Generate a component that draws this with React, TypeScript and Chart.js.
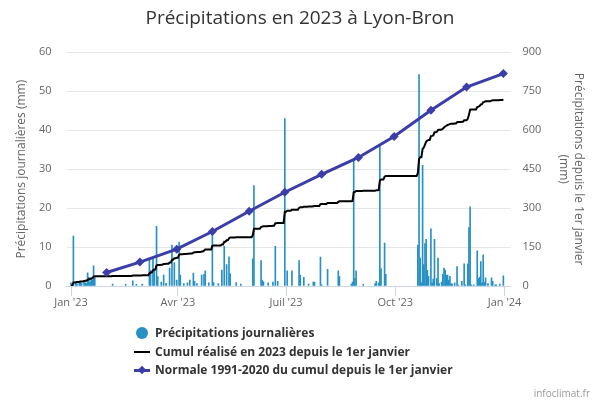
import React, { useEffect, useRef } from "react";
import { Chart, registerables } from "chart.js";

Chart.register(...registerables);

// ---- data (day index: 0 = 1 Jan 2023) ----
const rainDay = [
  0, 2, 4, 5, 7, 8, 9, 11, 12, 13, 14, 15, 16, 17, 18, 19, 20,
  35, 46, 52, 55,
  60, 66, 67, 69, 70, 72, 73, 76, 78, 80, 83, 85, 87, 89,
  91, 92, 95, 98, 100, 103, 104, 106, 110, 112, 113, 116, 119,
  120, 124, 127, 129, 131, 133, 134, 139, 143,
  153, 154, 160, 161, 162, 166, 170, 172, 174, 180,
  182, 186, 192, 193, 196, 200, 204, 205, 210, 211,
  216, 225, 226, 236, 237, 238, 239, 240, 246,
  256, 257, 259, 260, 261, 264, 265,
  292, 293, 294, 295, 296, 297, 298, 299, 300, 301, 303,
  304, 305, 306, 308, 309, 310, 312, 313, 314, 315, 316, 317, 318, 319, 320, 321, 323, 325, 326, 329, 331, 332,
  334, 335, 336, 337, 339, 342, 343, 344, 345, 346, 347, 348, 349, 351, 354, 355, 357, 358, 361, 364,
];
const rainMm = [
  0.8, 12.8, 0.8, 0.6, 1.2, 1.0, 0.6, 1.3, 0.8, 0.6, 3.4, 2.2, 1.0, 2.0, 1.5, 5.2, 2.2,
  0.5, 0.4, 1.3, 0.4,
  0.5, 7.0, 4.0, 7.5, 4.0, 15.3, 2.4, 1.0, 2.8, 0.7, 4.6, 10.5, 6.0, 1.5,
  11.3, 2.8, 0.6, 0.8, 1.5, 3.3, 1.2, 0.6, 2.8, 3.0, 3.9, 0.8, 13.6,
  0.9, 0.6, 4.1, 10.2, 5.5, 7.5, 3.2, 0.9, 0.5,
  7.0, 25.8, 6.5, 1.5, 1.1, 0.8, 1.0, 10.2, 1.2, 43.0,
  3.9, 3.9, 6.5, 2.8, 2.2, 0.5, 1.0, 1.0, 7.4, 0.3,
  4.3, 3.9, 2.4, 0.5, 1.0, 32.5, 2.0, 3.9, 0.4,
  0.6, 1.2, 0.8, 36.3, 4.5, 11.0, 3.0,
  10.5, 54.3, 7.2, 0.8, 31.0, 5.5, 10.9, 12.0, 4.0, 2.5, 14.7,
  0.8, 1.8, 12.0, 1.9, 7.2, 0.6, 1.0, 3.0, 4.6, 4.1, 2.8, 2.8, 1.5, 2.5, 0.6, 0.5, 0.8, 5.0, 0.3, 1.2, 5.7, 0.3,
  5.7, 15.0, 20.3, 0.3, 0.3, 9.0, 1.9, 2.2, 6.3, 0.8, 8.0, 0.9, 2.1, 0.6, 2.1, 1.2, 0.3, 0.3, 0.5, 2.6,
];

const normalDay = [30, 58, 89, 119, 150, 180, 211, 242, 272, 303, 333, 364];
const normalMm = [52, 92, 142, 210, 288, 361, 430, 495, 576, 677, 766, 818];

const xTickDays = [0, 90, 181, 273, 365];
const xTickLabels = ["Jan '23", "Avr '23", "Juil '23", "Oct '23", "Jan '24"];

const FONT = "'Open Sans', 'Noto Sans', Arial, sans-serif";
const BAR = "#2790c4";
const BLUE = "#3b3ea8";
const TICK = "#666666";

export default function App() {
  const ref = useRef<HTMLCanvasElement | null>(null);

  useEffect(() => {
    document.body.style.margin = "0";
    const canvas = ref.current;
    if (!canvas) return;

    const bars = rainDay.map((d, i) => ({ x: d, y: rainMm[i] }));
    const cum: { x: number; y: number }[] = [];
    let s = 0;
    for (let d = 0; d < 365; d++) {
      rainDay.forEach((rd, i) => {
        if (rd === d) s += rainMm[i];
      });
      cum.push({ x: d, y: Math.round(s * 10) / 10 });
    }
    const normal = normalDay.map((d, i) => ({ x: d, y: normalMm[i] }));

    const chart = new Chart(canvas, {
      type: "bar",
      data: {
        datasets: [
          {
            type: "line",
            label: "Normale 1991-2020 du cumul depuis le 1er janvier",
            data: normal,
            yAxisID: "y1",
            borderColor: BLUE,
            backgroundColor: BLUE,
            borderWidth: 3,
            pointStyle: "rectRot",
            pointRadius: 4.5,
            pointBorderWidth: 0,
            tension: 0,
            order: 0,
          } as any,
          {
            type: "line",
            label: "Cumul réalisé en 2023 depuis le 1er janvier",
            data: cum,
            yAxisID: "y1",
            borderColor: "#000000",
            borderWidth: 2,
            pointRadius: 0,
            tension: 0,
            order: 1,
          } as any,
          {
            type: "bar",
            label: "Précipitations journalières",
            data: bars,
            yAxisID: "y",
            backgroundColor: BAR,
            barThickness: 1,
            grouped: false,
            order: 2,
          } as any,
        ],
      },
      options: {
        animation: false,
        responsive: false,
        events: [],
        layout: { padding: { left: 0, right: 0, top: 0, bottom: 84 } },
        plugins: {
          legend: { display: false },
          tooltip: { enabled: false },
          title: {
            display: true,
            text: "Précipitations en 2023 à Lyon-Bron",
            color: "#333333",
            font: { family: FONT, size: 19, weight: "normal", lineHeight: 1.2 },
            padding: { top: 7, bottom: 22.5 },
          },
        },
        scales: {
          x: {
            type: "linear",
            min: -3.8,
            max: 370,
            offset: false,
            afterBuildTicks: (sc: any) => {
              sc.ticks = xTickDays.map((v) => ({ value: v }));
            },
            afterFit: (sc: any) => {
              sc.height = 30;
            },
            ticks: {
              autoSkip: false,
              maxRotation: 0,
              color: TICK,
              padding: 0,
              font: { family: FONT, size: 11 },
              callback: (v: any) => {
                const k = xTickDays.indexOf(Number(v));
                return k >= 0 ? xTickLabels[k] : "";
              },
            },
            grid: {
              drawOnChartArea: false,
              drawTicks: true,
              tickLength: 10,
              color: "#ccd6eb",
              offset: false,
            },
            border: { color: "#ccd6eb", width: 1 },
          } as any,
          y: {
            position: "left",
            min: 0,
            max: 60,
            afterFit: (sc: any) => {
              sc.width = 66.5;
            },
            ticks: {
              stepSize: 10,
              padding: 15,
              color: TICK,
              font: { family: FONT, size: 11 },
            },
            grid: { color: "#e6e6e6", drawTicks: false },
            border: { display: false },
            title: {
              display: true,
              text: "Précipitations journalières (mm)",
              color: TICK,
              font: { family: FONT, size: 12, lineHeight: 1.2 },
              padding: { top: 14.8, bottom: 0 },
            },
          } as any,
          y1: {
            position: "right",
            min: 0,
            max: 900,
            afterFit: (sc: any) => {
              sc.width = 89.5;
            },
            ticks: {
              stepSize: 150,
              padding: 12,
              color: TICK,
              font: { family: FONT, size: 11 },
            },
            grid: { drawOnChartArea: false, drawTicks: false },
            border: { display: false },
            title: {
              display: true,
              text: ["Précipitations depuis le 1er janvier", "(mm)"],
              color: TICK,
              font: { family: FONT, size: 12, lineHeight: 1.2 },
              padding: { top: 14.8, bottom: 0 },
            },
          } as any,
        },
      },
    });
    return () => chart.destroy();
  }, []);

  const textStyle: React.CSSProperties = {
    position: "absolute",
    left: 155,
    fontFamily: FONT,
    fontWeight: "bold",
    fontSize: 12,
    lineHeight: "14px",
    color: "#333333",
    whiteSpace: "nowrap",
  };

  return (
    <div style={{ position: "relative", width: 600, height: 400, fontFamily: FONT, background: "#ffffff" }}>
      <canvas ref={ref} width={600} height={400} style={{ display: "block" }} />
      {/* legend */}
      <div style={{ position: "absolute", left: 135.7, top: 327.3, width: 12, height: 12, borderRadius: "50%", background: BAR }} />
      <div style={{ ...textStyle, top: 326.3 }}>Précipitations journalières</div>
      <div style={{ position: "absolute", left: 134, top: 351.3, width: 15.5, height: 2, background: "#000000" }} />
      <div style={{ ...textStyle, top: 345.3 }}>Cumul réalisé en 2023 depuis le 1er janvier</div>
      <div style={{ position: "absolute", left: 134, top: 368.5, width: 15.5, height: 3, background: BLUE }} />
      <div
        style={{
          position: "absolute",
          left: 138.5,
          top: 367,
          width: 6,
          height: 6,
          background: BLUE,
          transform: "rotate(45deg)",
        }}
      />
      <div style={{ ...textStyle, top: 363 }}>Normale 1991-2020 du cumul depuis le 1er janvier</div>
      <div
        style={{
          position: "absolute",
          right: 10,
          top: 386,
          fontFamily: FONT,
          fontSize: 10,
          color: "#999999",
          whiteSpace: "nowrap",
        }}
      >
        infoclimat.fr
      </div>
    </div>
  );
}
